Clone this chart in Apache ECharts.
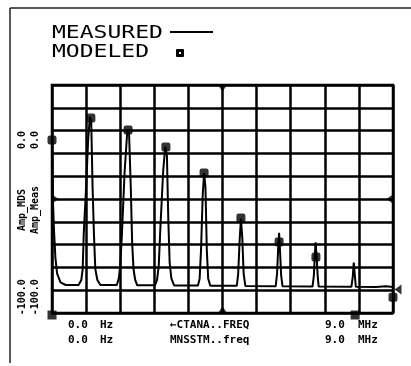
<!DOCTYPE html>
<html><head><meta charset="utf-8">
<script src="https://cdn.jsdelivr.net/npm/echarts@6/dist/echarts.min.js"></script>
<style>html,body{margin:0;padding:0;background:#fff}#c{width:411px;height:366px}</style>
</head><body><div id="c"></div>
<script>
// Measured trace (MHz, dB)
const measuredFreq = [0,0.03,0.06,0.1,0.15,0.25,0.4,
  0.78,0.86,0.9,0.93,1.0,1.06,1.11,1.15,1.19,1.23,1.27,1.33,1.42,
  1.9,1.96,2.0,2.05,2.13,2.21,2.26,2.31,2.35,2.39,2.44,2.5,
  3.02,3.08,3.13,3.18,3.26,3.32,3.37,3.41,3.45,3.5,3.58,
  4.28,4.33,4.37,4.42,4.46,4.5,4.54,4.58,4.64,
  5.42,5.46,5.5,5.54,5.58,5.62,5.67,
  6.56,6.6,6.63,6.66,6.69,6.72,6.76,
  7.64,7.68,7.71,7.73,7.76,7.79,7.82,
  8.78,8.82,8.85,8.88,8.91,
  9.5,9.8,10];
const measuredAmp = [0,-40,-58,-75,-85,-90.5,-92.2,
  -92.2,-89,-82,-60,-30,0,14.8,12,-30,-60,-82,-89,-92.2,
  -92.2,-88,-80,-60,-20,6.4,4,-30,-65,-82,-89,-92.4,
  -92.4,-89,-80,-55,-20,-4.2,-10,-50,-78,-88,-92.5,
  -92.5,-88,-70,-35,-21,-30,-70,-88,-92.6,
  -92.7,-85,-65,-50,-62,-85,-92.8,
  -93,-85,-70,-59,-72,-86,-93,
  -93.2,-86,-72,-65,-74,-86,-93.2,
  -93.3,-87,-78,-86,-93.3,
  -93.4,-93,-93.5];
// Modeled points (MHz, dB)
const modeledFreq = [0,1.14,2.23,3.34,4.46,5.54,6.66,7.74,10];
const modeledAmp = [0,14,6.4,-4.4,-21,-49.6,-64.9,-74.4,-100];
// Cursor squares
const cursorFreq = [0, 8.89];
const cursorAmp = [-110, -110];
const yTickValues = [-100, 0];
const legendNames = ['MEASURED', 'MODELED'];
const yAxisTitle = 'Amp_MDS\nAmp_Meas';
const footerRow1 = ['0.0', 'Hz', '\u2190CTANA..FREQ', '9.0', 'MHz'];
const footerRow2 = ['0.0', 'Hz', 'MNSSTM..freq', '9.0', 'MHz'];

const chart = echarts.init(document.getElementById('c'), null, {renderer:'canvas'});
const X0 = 0, X1 = 10, Y0 = -110, Y1 = 35, YMID = (Y0 + Y1) / 2, XMID = (X0 + X1) / 2;
const zip = (a, b) => a.map((v, i) => [v, b[i]]);
const monoB = '"DejaVu Sans Mono"';
const footerX = [68, 100, 170, 325, 358];
const footerText = (row, y) => row.map((t, i) => ({
  type: 'text', x: footerX[i], y: y,
  style: {text: t, font: 'bold 11px ' + monoB, fill: '#000', textVerticalAlign: 'middle'}
}));

chart.setOption({
  animation: false,
  backgroundColor: '#fff',
  grid: {left: 52, right: 18, top: 85, bottom: 53, containLabel: false, outerBoundsMode: 'none',
    show: true, borderColor: '#000', borderWidth: 2.5, backgroundColor: 'transparent'},
  xAxis: [{type: 'value', min: X0, max: X1, interval: 1,
    axisLine: {show: false}, axisTick: {show: false}, axisLabel: {show: false},
    splitLine: {show: true, lineStyle: {color: '#000', width: 2.5}}}],
  yAxis: [{type: 'value', min: Y0, max: Y1, position: 'left',
      axisLine: {show: false}, axisTick: {show: false}, splitLine: {show: false},
      axisLabel: {show: true, customValues: yTickValues, rotate: 90, margin: 10,
        fontFamily: 'DejaVu Sans Mono', fontWeight: 'bold', fontSize: 10, color: '#000', lineHeight: 13,
        formatter: v => v.toFixed(1) + '\n' + v.toFixed(1)},
      name: yAxisTitle, nameLocation: 'middle', nameRotate: 90, nameGap: 10, nameMoveOverlap: false,
      nameTextStyle: {fontFamily: 'DejaVu Sans Mono', fontWeight: 'bold', fontSize: 10, color: '#000', lineHeight: 13,
        padding: [0, 22, 0, 0]}},
    {type: 'value', min: 0, max: 10, interval: 1, position: 'right',
      axisLine: {show: false}, axisTick: {show: false}, axisLabel: {show: false},
      splitLine: {show: true, lineStyle: {color: '#000', width: 2.5}}}],
  series: [
    {name: legendNames[0], type: 'line', data: zip(measuredFreq, measuredAmp), showSymbol: false,
      lineStyle: {color: '#000', width: 2}, z: 3},
    {name: legendNames[1], type: 'scatter', data: zip(modeledFreq, modeledAmp), symbol: 'roundRect', symbolSize: 9,
      itemStyle: {color: '#000'}, z: 4},
    {name: 'cursor', type: 'scatter', data: zip(cursorFreq, cursorAmp), symbol: 'rect', symbolSize: 9,
      symbolOffset: [0, 2], itemStyle: {color: '#000'}, z: 5},
    {name: 'centre', type: 'scatter', symbol: 'triangle', symbolSize: [10, 7], itemStyle: {color: '#000'}, z: 5,
      data: [
        {value: [XMID, Y1], symbolRotate: 180, symbolOffset: [0, 3]},
        {value: [XMID, Y0], symbolRotate: 0, symbolOffset: [0, -3]},
        {value: [X0, YMID], symbolRotate: -90, symbolOffset: [3, 0]},
        {value: [X1, YMID], symbolRotate: 90, symbolOffset: [-3, 0]},
        {value: [X1, -95], symbolRotate: 90, symbolOffset: [5, 0]}
      ]}
  ],
  graphic: [
    {type: 'line', shape: {x1: 10, y1: 8, x2: 411, y2: 8}, style: {stroke: '#222', lineWidth: 1.5}},
    {type: 'line', shape: {x1: 10, y1: 8, x2: 10, y2: 363}, style: {stroke: '#222', lineWidth: 1.5}},
    {type: 'text', x: 52, y: 33, scaleX: 1.28,
      style: {text: legendNames[0], font: '18px ' + monoB, fill: '#000', textVerticalAlign: 'middle'}},
    {type: 'text', x: 52, y: 52, scaleX: 1.28,
      style: {text: legendNames[1], font: '18px ' + monoB, fill: '#000', textVerticalAlign: 'middle'}},
    {type: 'line', shape: {x1: 170, y1: 32, x2: 213, y2: 32}, style: {stroke: '#000', lineWidth: 2}},
    {type: 'rect', shape: {x: 176, y: 49, width: 8, height: 8, r: 1}, style: {fill: '#000'}},
    {type: 'rect', shape: {x: 179, y: 52, width: 2, height: 2}, style: {fill: '#fff'}}
  ].concat(footerText(footerRow1, 325), footerText(footerRow2, 340))
});
</script></body></html>
